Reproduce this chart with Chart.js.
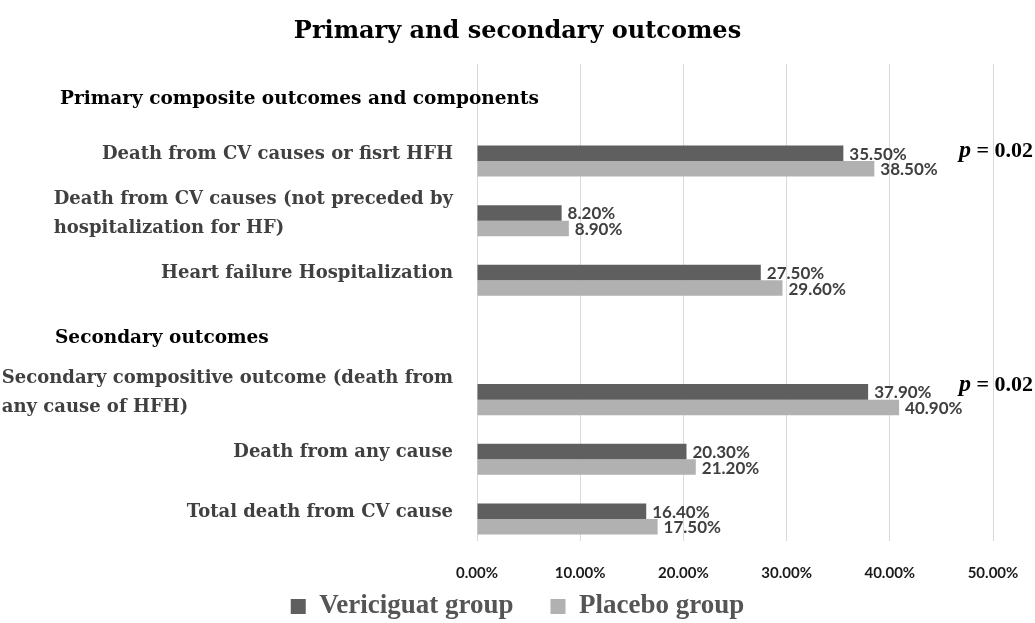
<!DOCTYPE html>
<html>
<head>
<meta charset="utf-8">
<script src="https://cdn.jsdelivr.net/npm/chart.js@4"></script>
<style>
  html, body { margin: 0; padding: 0; background: #fff; }
  #outcomesChart { display: block; }
</style>
</head>
<body>
<canvas id="outcomesChart" width="1035" height="623"></canvas>
<script>
// ===== Data =====
const categories = [
  'Primary composite outcomes and components',
  'Death from CV causes or fisrt HFH',
  ['Death from CV causes (not preceded by', 'hospitalization for HF)'],
  'Heart failure Hospitalization',
  'Secondary outcomes',
  ['Secondary compositive outcome (death from', 'any cause of HFH)'],
  'Death from any cause',
  'Total death from CV cause'
];
const isHeader = [true, false, false, false, true, false, false, false];
const vericiguat = [null, 35.5, 8.2, 27.5, null, 37.9, 20.3, 16.4];
const placebo = [null, 38.5, 8.9, 29.6, null, 40.9, 21.2, 17.5];
const spacer = [null, null, null, null, null, null, null, null];
const pValues = [null, 0.02, null, null, null, 0.02, null, null];
const xTicks = [0, 10, 20, 30, 40, 50];

const serif = '"DejaVu Serif", serif';
const sans = 'Lato, "Open Sans", sans-serif';

// labels, value tags and p values drawn on top of the chart
const annotate = {
  id: 'annotate',
  afterDraw(chart) {
    const ctx = chart.ctx;
    const yScale = chart.scales.y;
    const right = yScale.right - 24;
    ctx.save();
    ctx.textBaseline = 'middle';

    categories.forEach((label, i) => {
      const py = yScale.getPixelForValue(i);
      if (isHeader[i]) {
        ctx.font = 'bold 18.5px ' + serif;
        ctx.fillStyle = '#000';
        ctx.textAlign = 'left';
        ctx.fillText(label, i === 0 ? 60 : 55, py + 6);
        return;
      }
      const lines = Array.isArray(label) ? label : [label];
      ctx.font = 'bold 18px ' + serif;
      ctx.fillStyle = '#404040';
      ctx.textAlign = 'left';
      const w = Math.max(...lines.map(l => ctx.measureText(l).width));
      const lh = 29;
      lines.forEach((l, k) => {
        ctx.fillText(l, right - w, py + 1 + (k - (lines.length - 1) / 2) * lh);
      });
    });

    ctx.font = 'bold 17px ' + sans;
    ctx.fillStyle = '#404040';
    ctx.textAlign = 'left';
    [1, 2].forEach(di => {
      const meta = chart.getDatasetMeta(di);
      meta.data.forEach((bar, i) => {
        const v = chart.data.datasets[di].data[i];
        if (v == null) return;
        ctx.fillText(v.toFixed(2) + '%', bar.x + 6, bar.y + 1);
      });
    });

    const nudge = [0, -2, 0, 0, 0, -7, 0, 0];
    pValues.forEach((p, i) => {
      if (p == null) return;
      const py = yScale.getPixelForValue(i) + nudge[i];
      ctx.textAlign = 'right';
      ctx.fillStyle = '#000';
      ctx.font = 'bold 22px "Liberation Serif", serif';
      const rest = ' = ' + p.toFixed(2);
      const restW = ctx.measureText(rest).width;
      ctx.fillText(rest, 1033, py);
      ctx.font = 'italic bold 24px "Liberation Serif", serif';
      ctx.fillText('p', 1033 - restW, py);
    });
    ctx.restore();
  }
};

const outcomesChart = document.getElementById('outcomesChart');

new Chart(outcomesChart, {
  type: 'bar',

  data: {
    labels: categories,

    datasets: [{
      label: '',
      data: spacer
    }, {
      label: 'Vericiguat group',
      data: vericiguat,
      backgroundColor: '#5f5f5f'
    }, {
      label: 'Placebo group',
      data: placebo,
      backgroundColor: '#b1b1b1'
    }]
  },

  options: {
    indexAxis: 'y',
    responsive: false,
    animation: false,
    categoryPercentage: 0.78,
    barPercentage: 1,

    layout: {
      padding: 0
    },

    scales: {
      x: {
        min: 0,
        max: 50,
        afterBuildTicks: scale => {
          scale.ticks = xTicks.map(v => ({ value: v }));
        },
        afterFit: scale => {
          scale.height = 42;
          scale.paddingRight = 0;
        },
        grid: { color: '#d9d9d9', drawTicks: false },
        border: { display: false },
        ticks: {
          padding: 23,
          color: '#1a1a1a',
          font: { family: sans, size: 15, weight: 'bold' },
          callback: v => v.toFixed(2) + '%'
        }
      },
      y: {
        grid: { display: false },
        border: { display: false },
        ticks: { display: false },
        afterFit: scale => { scale.width = 477; }
      },
      // empty strip on the right where the p values sit
      yRight: {
        position: 'right',
        grid: { display: false },
        border: { display: false },
        ticks: { display: false },
        afterFit: scale => { scale.width = 42; }
      }
    },

    plugins: {
      title: {
        display: true,
        text: 'Primary and secondary outcomes',
        color: '#000',
        font: { family: serif, size: 24, weight: 'bold' },
        padding: { top: 17, bottom: 18 }
      },
      legend: {
        position: 'bottom',
        maxHeight: 40,
        labels: {
          filter: item => item.datasetIndex > 0,
          generateLabels: chart => Chart.defaults.plugins.legend.labels
            .generateLabels(chart)
            .map(item => ({
              ...item,
              text: item.datasetIndex === 1 ? item.text + '\u2003' : item.text
            })),
          boxWidth: 15,
          boxHeight: 15,
          padding: 10,
          color: '#555555',
          font: { family: '"Liberation Serif", serif', size: 27, weight: 'bold' }
        }
      },
      tooltip: { enabled: false }
    }
  },

  plugins: [annotate]
});
</script>
</body>
</html>
